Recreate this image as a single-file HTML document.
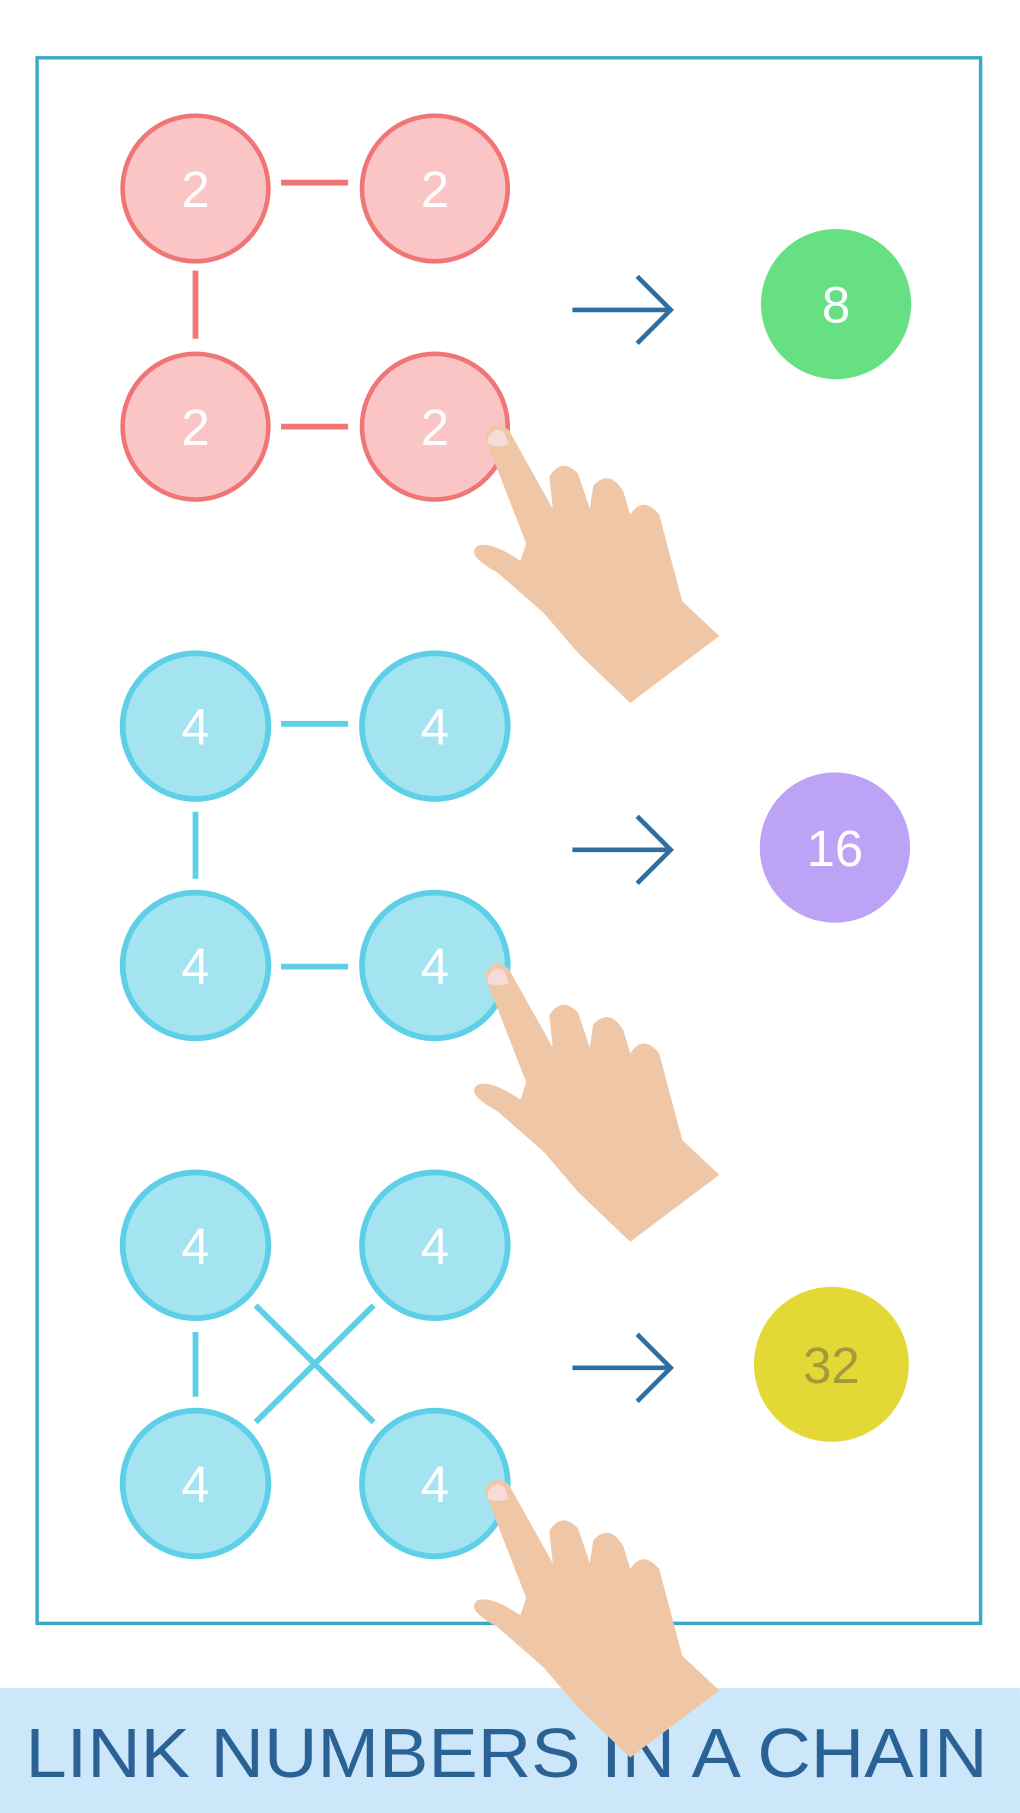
<!DOCTYPE html>
<html><head><meta charset="utf-8"><style>
html,body{margin:0;padding:0;background:#fff;}
svg{display:block;}
text{font-family:"Liberation Sans",sans-serif;}
</style></head><body>
<svg width="1020" height="1813" viewBox="0 0 882 1568" xmlns="http://www.w3.org/2000/svg">
<defs>
<g id="hand">
<path d="M420,375 Q428,362 440,372 L478,440 L475,412 Q486,395 500,410 L510,440 L513,420 Q527,405 539,425 L545,445 Q556,428 570,445 L590,520 L622,550 L545,608 L500,565 L470,530 L430,495 Q402,480 413,472 Q425,468 450,485 L455,470 L420,380 Z" fill="#efc7a6"/>
<path d="M422,378 Q428,368 436,374 L440,384 Q430,388 422,384 Z" fill="#f6dcd6"/>
</g>
<g id="arrow" stroke="#2f6e9e" stroke-width="4" fill="none">
<line x1="495" y1="0" x2="578" y2="0"/>
<polyline points="551,-29 580,0 551,29"/>
</g>
</defs>
<rect x="0" y="0" width="882" height="1568" fill="#fff"/>
<rect x="32" y="50" width="816" height="1354" fill="none" stroke="#3ba9c6" stroke-width="3"/>

<!-- set 1 -->
<g stroke="#f07575" stroke-width="5">
<line x1="243" y1="158" x2="301" y2="158"/>
<line x1="169" y1="234" x2="169" y2="293"/>
<line x1="243" y1="369" x2="301" y2="369"/>
</g>
<g fill="#fcc5c5" stroke="#f07575" stroke-width="4">
<circle cx="169" cy="163" r="63"/><circle cx="376" cy="163" r="63"/>
<circle cx="169" cy="369" r="63"/><circle cx="376" cy="369" r="63"/>
</g>
<g fill="#fff" font-size="44" text-anchor="middle">
<text x="169" y="179">2</text><text x="376" y="179">2</text>
<text x="169" y="385">2</text><text x="376" y="385">2</text>
</g>
<use href="#arrow" transform="translate(0,268)"/>
<circle cx="723" cy="263" r="65" fill="#67e083"/>
<text x="723" y="279" fill="#fff" font-size="44" text-anchor="middle">8</text>

<!-- set 2 -->
<g stroke="#5dcfe6" stroke-width="5">
<line x1="243" y1="626" x2="301" y2="626"/>
<line x1="169" y1="702" x2="169" y2="760"/>
<line x1="243" y1="836" x2="301" y2="836"/>
</g>
<g fill="#a3e4f0" stroke="#5dcfe6" stroke-width="5">
<circle cx="169" cy="628" r="63"/><circle cx="376" cy="628" r="63"/>
<circle cx="169" cy="835" r="63"/><circle cx="376" cy="835" r="63"/>
</g>
<g fill="#fff" font-size="44" text-anchor="middle">
<text x="169" y="644">4</text><text x="376" y="644">4</text>
<text x="169" y="851">4</text><text x="376" y="851">4</text>
</g>
<use href="#arrow" transform="translate(0,735)"/>
<circle cx="722" cy="733" r="65" fill="#bda3f5"/>
<text x="722" y="749" fill="#fff" font-size="44" text-anchor="middle">16</text>

<!-- set 3 -->
<g stroke="#5dcfe6" stroke-width="5">
<line x1="169" y1="1152" x2="169" y2="1208"/>
<line x1="221" y1="1129" x2="323" y2="1230"/>
<line x1="323" y1="1129" x2="221" y2="1230"/>
</g>
<g fill="#a3e4f0" stroke="#5dcfe6" stroke-width="5">
<circle cx="169" cy="1077" r="63"/><circle cx="376" cy="1077" r="63"/>
<circle cx="169" cy="1283" r="63"/><circle cx="376" cy="1283" r="63"/>
</g>
<g fill="#fff" font-size="44" text-anchor="middle">
<text x="169" y="1093">4</text><text x="376" y="1093">4</text>
<text x="169" y="1299">4</text><text x="376" y="1299">4</text>
</g>
<use href="#arrow" transform="translate(0,1183)"/>
<circle cx="719" cy="1180" r="67" fill="#e3d836"/>
<text x="719" y="1196" fill="#a39a3a" font-size="44" text-anchor="middle">32</text>

<!-- banner -->
<rect x="0" y="1460" width="882" height="108" fill="#cce6fa"/>
<text x="438" y="1537" fill="#2a6296" font-size="60" text-anchor="middle" textLength="832" lengthAdjust="spacingAndGlyphs">LINK NUMBERS IN A CHAIN</text>

<!-- hands -->
<use href="#hand"/>
<use href="#hand" transform="translate(0,466)"/>
<use href="#hand" transform="translate(0,912)"/>
</svg>
</body></html>
